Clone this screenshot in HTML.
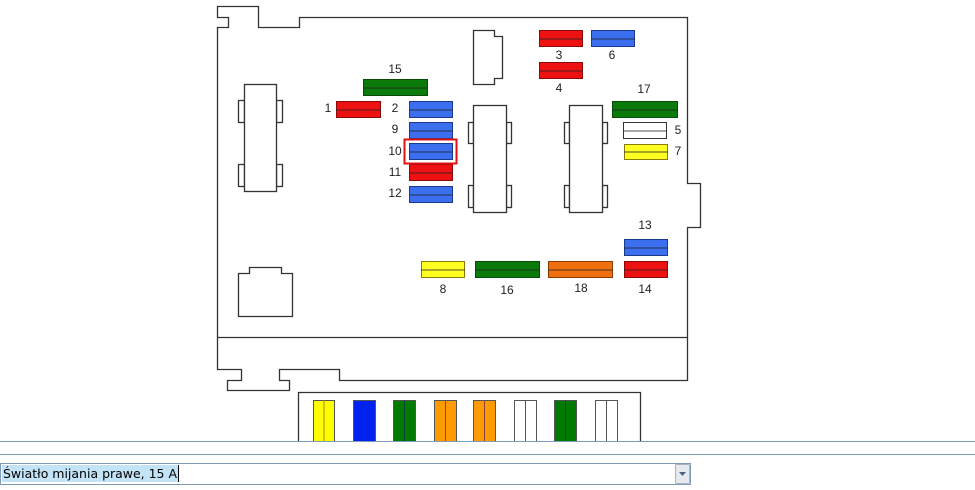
<!DOCTYPE html>
<html><head><meta charset="utf-8"><style>
html,body{margin:0;padding:0;background:#fff;width:975px;height:490px;overflow:hidden}
svg{position:absolute;left:0;top:0}
text{font-family:"Liberation Sans",Arial,sans-serif;font-size:12px;fill:#222}
</style></head><body>
<svg width="975" height="490" viewBox="0 0 975 490">
<g fill="none" stroke="#333" stroke-width="1.3">
<path fill="#fff" d="M217.5,6.5 H258.5 V27.5 H299.5 V17.5 H687.5 V183.5 H700.5 V227.5 H687.5 V380.5 H339.5 V369.5 H279.5 V380.5 H289.5 V390.5 H227.5 V380.5 H241.5 V369.5 H217.5 V27.5 H228.5 V17.5 H217.5 Z"/>
<line x1="217" y1="337.5" x2="688" y2="337.5"/>
<rect x="238.5" y="100.5" width="6" height="22" fill="#fff"/><rect x="276.5" y="100.5" width="6" height="22" fill="#fff"/>
<rect x="238.5" y="164.5" width="6" height="22" fill="#fff"/><rect x="276.5" y="164.5" width="6" height="22" fill="#fff"/>
<rect x="244.5" y="84.5" width="32" height="107" fill="#fff"/>
<rect x="468.5" y="122.5" width="5" height="21"/><rect x="506.5" y="122.5" width="5" height="21"/>
<rect x="468.5" y="185.5" width="5" height="22"/><rect x="506.5" y="185.5" width="5" height="22"/>
<rect x="473.5" y="105.5" width="33" height="107" fill="#fff"/>
<rect x="564.5" y="122.5" width="5" height="21"/><rect x="602.5" y="122.5" width="5" height="21"/>
<rect x="564.5" y="185.5" width="5" height="22"/><rect x="602.5" y="185.5" width="5" height="22"/>
<rect x="569.5" y="105.5" width="33" height="107" fill="#fff"/>
<path d="M473.5,30.5 H494.5 V36.5 H502.5 V78.5 H494.5 V84.5 H473.5 Z"/>
<path d="M249.5,267.5 H281.5 V273.5 H292.5 V316.5 H238.5 V273.5 H249.5 Z"/>
<path d="M298.5,441 V392.5 H640.5 V441"/>
</g>
<g stroke-width="1">
<g fill="#0a7a0a" stroke="#064d06"><rect x="363.5" y="79.5" width="64" height="16"/><rect x="612.5" y="101.5" width="65" height="16"/><rect x="475.5" y="261.5" width="64" height="16"/></g>
<g fill="#ee1111" stroke="#8a0a0a"><rect x="336.5" y="101.5" width="44" height="16"/><rect x="409.5" y="164.5" width="43" height="16"/><rect x="539.5" y="30.5" width="43" height="16"/><rect x="539.5" y="62.5" width="43" height="16"/><rect x="624.5" y="261.5" width="43" height="16"/></g>
<g fill="#3b6ff0" stroke="#1a3a8a"><rect x="409.5" y="101.5" width="43" height="16"/><rect x="409.5" y="122.5" width="43" height="16"/><rect x="409.5" y="143.5" width="43" height="16"/><rect x="409.5" y="186.5" width="43" height="16"/><rect x="591.5" y="30.5" width="43" height="16"/><rect x="624.5" y="239.5" width="43" height="16"/></g>
<g fill="#ffff22" stroke="#8a7a0a"><rect x="624.5" y="144.5" width="43" height="15"/><rect x="421.5" y="261.5" width="43" height="16"/></g>
<rect x="623.5" y="122.5" width="43" height="16" fill="#fff" stroke="#333"/>
<rect x="548.5" y="261.5" width="64" height="16" fill="#f07010" stroke="#8a3a05"/>
<g stroke="#222" stroke-opacity="0.8">
<line x1="363" y1="88" x2="428" y2="88"/><line x1="612" y1="110" x2="678" y2="110"/><line x1="475" y1="270" x2="540" y2="270"/>
<line x1="336" y1="110" x2="381" y2="110"/><line x1="409" y1="173" x2="453" y2="173"/><line x1="539" y1="39" x2="583" y2="39"/><line x1="539" y1="71" x2="583" y2="71"/><line x1="624" y1="270" x2="668" y2="270"/>
<line x1="409" y1="110" x2="453" y2="110"/><line x1="409" y1="131" x2="453" y2="131"/><line x1="409" y1="152" x2="453" y2="152"/><line x1="409" y1="195" x2="453" y2="195"/><line x1="591" y1="39" x2="635" y2="39"/><line x1="624" y1="248" x2="668" y2="248"/>
<line x1="624" y1="152" x2="668" y2="152"/><line x1="421" y1="270" x2="465" y2="270"/><line x1="623" y1="131" x2="667" y2="131"/><line x1="548" y1="270" x2="613" y2="270"/>
</g>
<rect x="404.5" y="139.5" width="52" height="24" fill="none" stroke="#e01010" stroke-width="2"/>
<g stroke="#555">
<rect x="313.5" y="400.5" width="21" height="45" fill="#ffff00"/><line x1="324" y1="400" x2="324" y2="441" stroke="#b08000"/>
<rect x="353.5" y="400.5" width="22" height="45" fill="#0022ee"/>
<rect x="393.5" y="400.5" width="22" height="45" fill="#007a00"/><line x1="404.5" y1="400" x2="404.5" y2="441" stroke="#043"/>
<rect x="434.5" y="400.5" width="22" height="45" fill="#ff9a00"/><line x1="445.5" y1="400" x2="445.5" y2="441" stroke="#844"/>
<rect x="473.5" y="400.5" width="22" height="45" fill="#ff9a00"/><line x1="484.5" y1="400" x2="484.5" y2="441" stroke="#844"/>
<rect x="514.5" y="400.5" width="22" height="45" fill="#fff"/><line x1="525.5" y1="400" x2="525.5" y2="441"/>
<rect x="554.5" y="400.5" width="22" height="45" fill="#007a00"/><line x1="565.5" y1="400" x2="565.5" y2="441" stroke="#043"/>
<rect x="595.5" y="400.5" width="22" height="45" fill="#fff"/><line x1="606.5" y1="400" x2="606.5" y2="441"/>
</g>
</g>
<rect x="0" y="441" width="975" height="49" fill="#fff"/>
<g text-anchor="middle">
<text x="395" y="73">15</text><text x="328" y="112">1</text><text x="395" y="112">2</text><text x="395" y="133">9</text><text x="395" y="155">10</text><text x="395" y="176">11</text><text x="395" y="197">12</text>
<text x="559" y="59">3</text><text x="612" y="59">6</text><text x="559" y="92">4</text><text x="644" y="93">17</text><text x="678" y="134">5</text><text x="678" y="155">7</text>
<text x="645" y="229">13</text><text x="645" y="293">14</text><text x="581" y="292">18</text><text x="507" y="294">16</text><text x="443" y="293">8</text>
</g>
<line x1="0" y1="441.5" x2="975" y2="441.5" stroke="#7f9db9"/>
<line x1="0" y1="454.5" x2="975" y2="454.5" stroke="#7f9db9"/>
<rect x="0.5" y="463.5" width="690" height="21" fill="#fff" stroke="#7f9db9"/>
<rect x="2" y="465" width="176" height="17" fill="#c3e3f7"/>
<text x="3" y="478" textLength="174" style="fill:#000;font-family:'DejaVu Sans',sans-serif;font-size:12.5px">Światło mijania prawe, 15 A</text>
<line x1="178.5" y1="465" x2="178.5" y2="482" stroke="#000"/>
<rect x="675.5" y="464.5" width="14" height="19" fill="#e6e9ee" stroke="#a8b4c4" rx="1"/>
<path d="M679,472 h7 l-3.5,4 z" fill="#4d6185"/>
</svg>
</body></html>
